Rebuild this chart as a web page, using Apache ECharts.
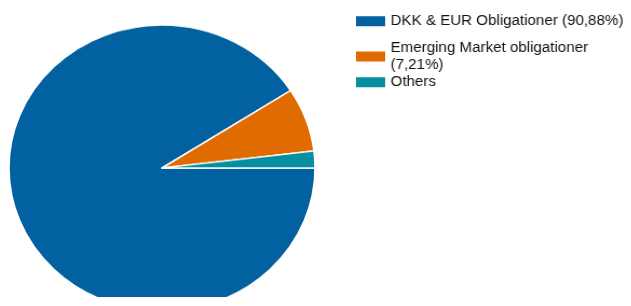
<!DOCTYPE html>
<html>
<head>
<meta charset="utf-8">
<script src="https://cdn.jsdelivr.net/npm/echarts@6/dist/echarts.min.js"></script>
<style>
  html, body { margin: 0; padding: 0; background: #fff; overflow: hidden; }
  #wrap { position: relative; width: 631px; height: 306px; overflow: hidden; }
  #pie, #legend { position: absolute; left: 0; top: 0; width: 631px; height: 306px; }
  /* the reference picture is a bit stretched sideways */
  #pie { transform: scaleY(0.935); transform-origin: 162px 168px; }
  #legend { transform: scaleX(1.08); transform-origin: 356px 0; }
</style>
</head>
<body>
<div id="wrap">
  <div id="pie"></div>
  <div id="legend"></div>
</div>
<script>
  // data
  const names = ['DKK & EUR Obligationer', 'Emerging Market obligationer', 'Others'];
  const values = [90.88, 7.21, 1.91];
  const legendLabels = ['DKK & EUR Obligationer (90,88%)', 'Emerging Market obligationer\n(7,21%)', 'Others'];
  const colors = ['#0261a1', '#e06b00', '#058fa0'];

  let pieData = names.map(function (n, i) {
    return { name: n, value: values[i], itemStyle: { color: colors[i] } };
  });

  let pieChart = echarts.init(document.getElementById('pie'));
  pieChart.setOption({
    animation: false,
    series: [
      {
        type: 'pie',
        center: [162, 168],
        radius: 153,
        startAngle: 0,
        clockwise: true,
        silent: true,
        label: { show: false },
        labelLine: { show: false },
        itemStyle: { borderColor: '#fff', borderWidth: 1.5 },
        data: pieData
      }
    ]
  });

  // legend drawn in its own instance so the text is not squashed
  let legendTops = [13, 40, 74];
  let legends = names.map(function (n, i) {
    return {
      data: [n],
      left: 356,
      top: legendTops[i],
      padding: 0,
      orient: 'vertical',
      itemWidth: 27,
      itemHeight: 10,
      icon: 'rect',
      selectedMode: false,
      formatter: function () { return legendLabels[i]; },
      textStyle: { fontFamily: 'Liberation Sans, Arial, sans-serif', fontSize: 14, color: '#111', lineHeight: 16.5 }
    };
  });

  let legendChart = echarts.init(document.getElementById('legend'));
  legendChart.setOption({
    animation: false,
    legend: legends,
    series: [
      {
        type: 'pie',
        center: [-100, -100],
        radius: 0,
        silent: true,
        label: { show: false },
        labelLine: { show: false },
        data: pieData
      }
    ]
  });

  window.addEventListener('resize', function () { pieChart.resize(); legendChart.resize(); });
</script>
</body>
</html>
